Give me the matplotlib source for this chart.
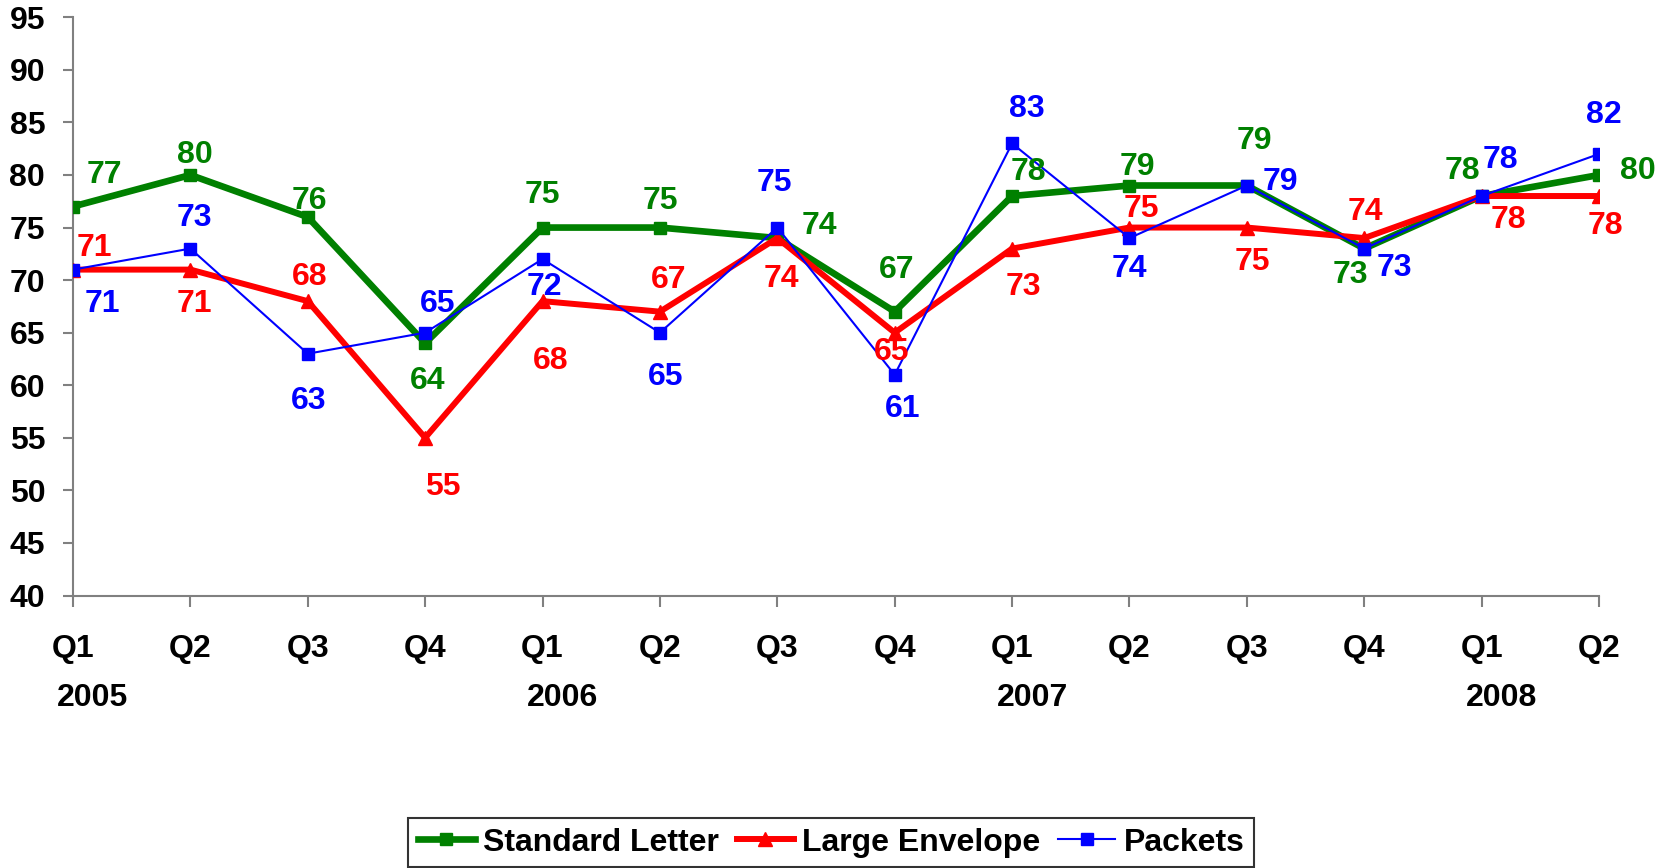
import matplotlib
matplotlib.use("Agg")
import matplotlib.pyplot as plt
from matplotlib.lines import Line2D

plt.rcParams['font.family'] = ['Liberation Sans', 'DejaVu Sans']
plt.rcParams['font.weight'] = 'bold'

quarters = ["Q1", "Q2", "Q3", "Q4", "Q1", "Q2", "Q3", "Q4", "Q1", "Q2", "Q3", "Q4", "Q1", "Q2"]
years = ["2005", "2006", "2007", "2008"]
year_pos = [0, 4, 8, 12]

standard_letter = [77, 80, 76, 64, 75, 75, 74, 67, 78, 79, 79, 73, 78, 80]
large_envelope = [71, 71, 68, 55, 68, 67, 74, 65, 73, 75, 75, 74, 78, 78]
packets = [71, 73, 63, 65, 72, 65, 75, 61, 83, 74, 79, 73, 78, 82]

# label offsets (pixels, dx, dy with +dy downward)
off_green = [(31, -32), (4, -20), (2, -16), (2, 38), (0, -33), (0, -27), (42, -12),
             (2, -42), (16, -24), (8, -19), (8, -45), (-14, 26), (-19, -25), (39, -4)]
off_red = [(21, -22), (4, 34), (2, -24), (18, 49), (8, 60), (9, -32), (4, 41),
           (-3, 19), (11, 38), (12, -19), (6, 34), (1, -26), (27, 24), (6, 30)]
off_blue = [(29, 34), (4, -31), (1, 47), (12, -29), (2, 28), (6, 44), (-3, -45),
            (8, 34), (15, -34), (0, 31), (34, -4), (30, 19), (19, -36), (5, -39)]

GREEN = "#008000"
RED = "#FF0000"
BLUE = "#0000FF"

fig = plt.figure(figsize=(16.65, 8.68), dpi=100)
ax = fig.add_axes([73 / 1665, 1 - 595.5 / 868, (1599 - 73) / 1665, (595.5 - 17.3) / 868])

x = list(range(len(quarters)))
ax.plot(x, standard_letter, color=GREEN, lw=4.8, marker='s', ms=8.5, zorder=3)
ax.plot(x, large_envelope, color=RED, lw=4.3, marker='^', ms=10, zorder=4)
ax.plot(x, packets, color=BLUE, lw=1.5, marker='s', ms=8.5, zorder=5)

fs = 23
for vals, offs, col in [(standard_letter, off_green, GREEN),
                        (large_envelope, off_red, RED),
                        (packets, off_blue, BLUE)]:
    for i, (v, (dx, dy)) in enumerate(zip(vals, offs)):
        ax.annotate(str(v), xy=(i, v), xytext=(dx, -dy), textcoords='offset pixels',
                    ha='center', va='center', color=col, fontsize=fs, fontweight='bold',
                    zorder=6)

ax.set_xlim(0, len(quarters) - 1)
ax.set_ylim(40, 95)
ax.set_yticks(range(40, 96, 5))
ax.set_xticks(x)
ax.set_xticklabels(quarters)
ax.tick_params(axis='x', direction='out', length=8, width=1.5, color='#808080',
               labelsize=fs, pad=19.5)
ax.tick_params(axis='y', direction='out', length=7, width=1.5, color='#808080',
               labelsize=fs, pad=13)
for lab in ax.get_xticklabels() + ax.get_yticklabels():
    lab.set_fontweight('bold')

for s in ['top', 'right']:
    ax.spines[s].set_visible(False)
for s in ['left', 'bottom']:
    ax.spines[s].set_color('#808080')
    ax.spines[s].set_linewidth(1.5)

for yp, yl in zip(year_pos, years):
    ax.annotate(yl, xy=(yp, 0), xycoords=('data', 'axes fraction'),
                xytext=(20, -103), textcoords='offset pixels',
                ha='center', va='center', fontsize=fs, fontweight='bold')

handles = [
    Line2D([], [], color=GREEN, lw=4.8, marker='s', ms=8.5),
    Line2D([], [], color=RED, lw=4.3, marker='^', ms=10),
    Line2D([], [], color=BLUE, lw=1.5, marker='s', ms=8.5),
]
leg = fig.legend(handles, ["Standard Letter", "Large Envelope", "Packets"],
                 loc='upper center', bbox_to_anchor=(831 / 1665, 1 - 818 / 868),
                 ncol=3, frameon=True, fancybox=False, edgecolor='black',
                 prop={'weight': 'bold', 'size': fs},
                 handlelength=1.8, handletextpad=0.25, columnspacing=0.55,
                 borderpad=0.3, numpoints=1, borderaxespad=0)
leg.get_frame().set_linewidth(1.5)

fig.savefig("out.png", dpi=100)
